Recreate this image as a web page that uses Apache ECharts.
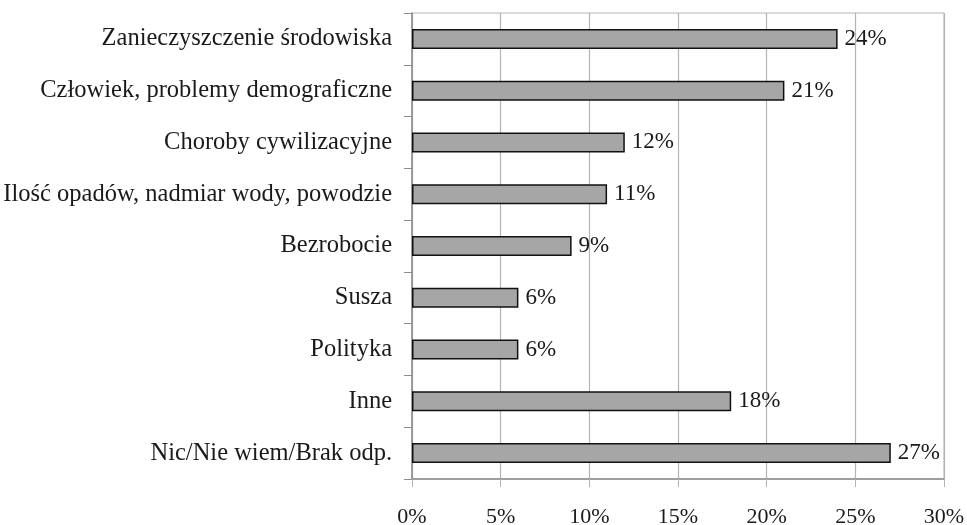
<!DOCTYPE html>
<html>
<head>
<meta charset="utf-8">
<script src="https://cdn.jsdelivr.net/npm/echarts@6/dist/echarts.min.js"></script>
<style>
  html, body { margin: 0; padding: 0; background: #fff; }
  #chart { width: 967px; height: 525px; }
</style>
</head>
<body>
<div id="chart"></div>
<script>
const categories = [
  'Zanieczyszczenie środowiska',
  'Człowiek, problemy demograficzne',
  'Choroby cywilizacyjne',
  'Ilość opadów, nadmiar wody, powodzie',
  'Bezrobocie',
  'Susza',
  'Polityka',
  'Inne',
  'Nic/Nie wiem/Brak odp.'
]
const shares = [24, 21, 12, 11, 9, 6, 6, 18, 27]
const axisTicks = [0, 5, 10, 15, 20, 25, 30]

const fontFamily = '"Liberation Serif", "Times New Roman", serif'
const ink = '#1a1a1a'
const gridGray = '#b4b4b4'
const axisGray = '#8c8c8c'

const chart = echarts.init(document.getElementById('chart'))

chart.setOption({
  animation: false,
  textStyle: { fontFamily, color: ink },
  grid: {
    left: 412, right: 23, top: 13, bottom: 46,
    outerBoundsMode: 'none',
    show: true, borderColor: gridGray, borderWidth: 1
  },
  xAxis: {
    type: 'value',
    min: axisTicks[0],
    max: axisTicks[axisTicks.length - 1],
    interval: 5,
    axisLine: { show: true, lineStyle: { color: axisGray, width: 1.5 } },
    axisTick: { show: true, length: 8, lineStyle: { color: gridGray } },
    splitLine: { show: true, lineStyle: { color: gridGray, width: 1.2 } },
    axisLabel: {
      margin: 27, fontSize: 22, color: ink, fontFamily,
      formatter: '{value}%'
    }
  },
  yAxis: {
    type: 'category',
    data: categories,
    inverse: true,
    axisLine: { show: true, lineStyle: { color: axisGray, width: 1.5 } },
    axisTick: { show: true, length: 8, lineStyle: { color: axisGray } },
    axisLabel: { margin: 20, fontSize: 24.5, color: ink, fontFamily }
  },
  series: [{
    type: 'bar',
    data: shares,
    barWidth: 20,
    itemStyle: { color: '#a6a6a6', borderColor: '#111', borderWidth: 1.5 },
    label: {
      show: true, position: 'right', distance: 7,
      fontSize: 23, color: ink, fontFamily,
      formatter: (p) => p.value + '%'
    }
  }]
})
</script>
</body>
</html>
